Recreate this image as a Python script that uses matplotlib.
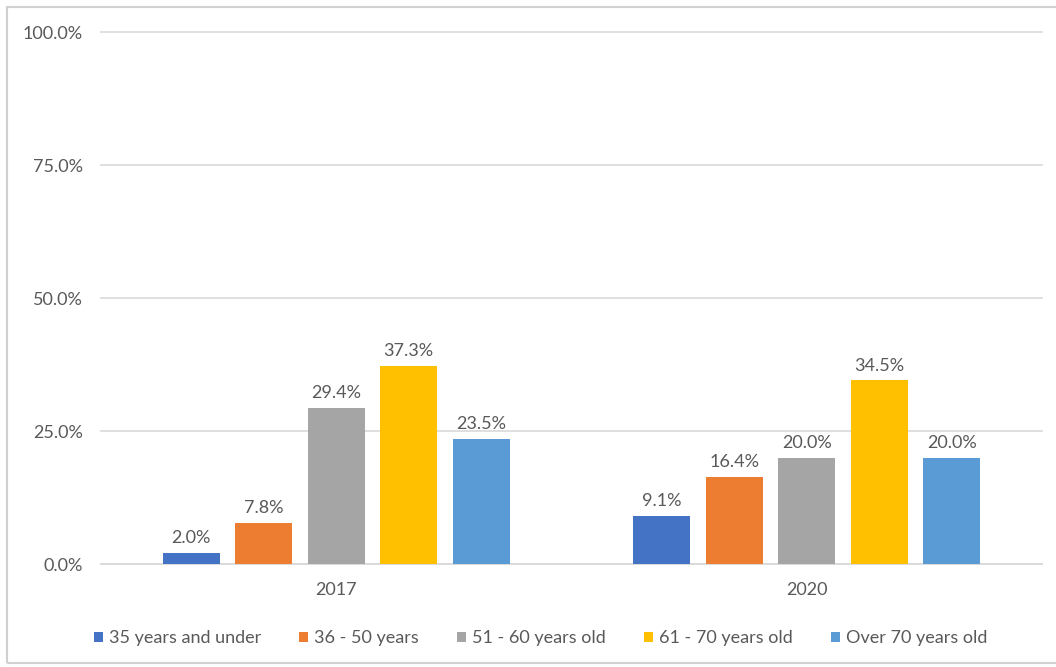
import matplotlib
matplotlib.use("Agg")
import matplotlib.pyplot as plt
from matplotlib.patches import Rectangle
import numpy as np

years = ["2017", "2020"]
age_groups = ["35 years and under", "36 - 50 years", "51 - 60 years old",
              "61 - 70 years old", "Over 70 years old"]
share_2017 = [2.0, 7.8, 29.4, 37.3, 23.5]
share_2020 = [9.1, 16.4, 20.0, 34.5, 20.0]
y_ticks = [0, 25, 50, 75, 100]

colors = ["#4472C4", "#ED7D31", "#A5A5A5", "#FFC000", "#5B9BD5"]
text_gray = "#595959"
grid_gray = "#D9D9D9"
fs = 13

plt.rcParams["font.family"] = ["Lato", "DejaVu Sans"]

fig = plt.figure(figsize=(10.56, 6.67), dpi=100)
ax = fig.add_axes([0.0956, 0.1544, 0.8911, 0.7976])

values = np.array([share_2017, share_2020])
x = np.arange(len(years))
bar_w = 0.121
step = 0.154
offsets = (np.arange(len(age_groups)) - 2) * step

for i, (name, col) in enumerate(zip(age_groups, colors)):
    bars = ax.bar(x + offsets[i], values[:, i], width=bar_w, color=col,
                  label=name, zorder=3)
    for b, v in zip(bars, values[:, i]):
        ax.annotate(f"{v:.1f}%", (b.get_x() + b.get_width() / 2, v),
                    xytext=(0, 5), textcoords="offset points",
                    ha="center", va="bottom", fontsize=fs, color=text_gray)

ax.set_xlim(-0.5, 1.5)
ax.set_ylim(0, 100)
ax.set_yticks(y_ticks)
ax.set_yticklabels([f"{t:.1f}%" for t in y_ticks])
ax.set_xticks(x)
ax.set_xticklabels(years)
ax.tick_params(axis="y", length=0, pad=13, labelsize=fs, labelcolor=text_gray)
ax.tick_params(axis="x", length=0, pad=13, labelsize=fs, labelcolor=text_gray)
ax.grid(axis="y", color=grid_gray, linewidth=1.2, zorder=0)
for s in ["top", "right", "left"]:
    ax.spines[s].set_visible(False)
ax.spines["bottom"].set_color(grid_gray)
ax.spines["bottom"].set_linewidth(1.2)
for gl in ax.get_ygridlines():
    gl.set_clip_on(False)

leg = fig.legend(loc="center", bbox_to_anchor=(0.512, 0.043), ncol=5,
                 frameon=False, fontsize=fs, handlelength=0.5,
                 handleheight=0.5, handletextpad=0.35, columnspacing=2.1)
for t in leg.get_texts():
    t.set_color(text_gray)

# outer chart frame
fig.patches.append(Rectangle((7 / 1056, 4 / 667), 1.05, 656 / 667,
                             transform=fig.transFigure, fill=False,
                             edgecolor="#D0D0D0", linewidth=1.5))

fig.savefig("out.png", dpi=100)
